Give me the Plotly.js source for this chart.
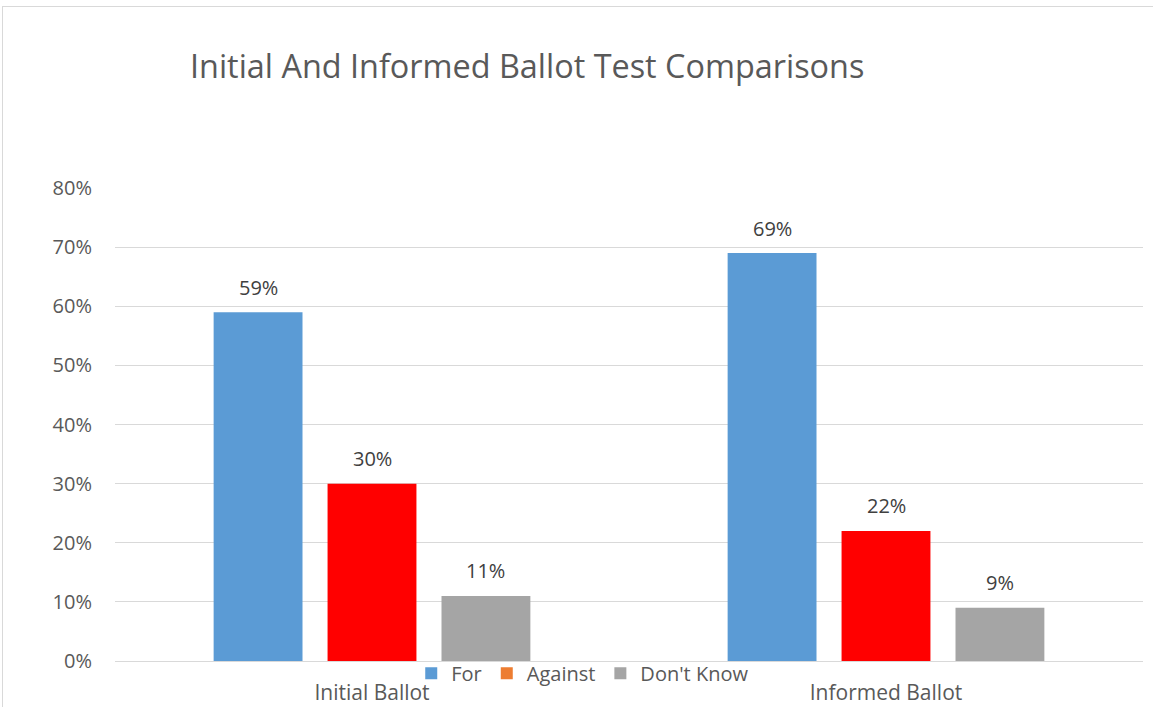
<!DOCTYPE html>
<html>
<head>
<meta charset="utf-8">
<script src="https://cdn.plot.ly/plotly-3.0.1.min.js"></script>
<style>
html,body{margin:0;padding:0;background:#fff;}
#wrap{position:relative;width:1153px;height:707px;overflow:hidden;}
#chart{position:absolute;left:0;top:0;width:1153px;height:707px;}
#frame{position:absolute;left:2px;top:6px;width:1160px;height:720px;border:1px solid #d9d9d9;pointer-events:none;box-sizing:border-box;}
</style>
</head>
<body>
<div id="wrap"><div id="chart"></div><div id="frame"></div></div>
<script>
const categories = ["Initial Ballot", "Informed Ballot"];
const forValues = [0.59, 0.69];
const againstValues = [0.30, 0.22];
const dontKnowValues = [0.11, 0.09];
const yTickValues = [0, 0.1, 0.2, 0.3, 0.4, 0.5, 0.6, 0.7, 0.8];
const yTickLabels = ["0%", "10%", "20%", "30%", "40%", "50%", "60%", "70%", "80%"];

const FONT = "Open Sans, sans-serif";
const pct = v => Math.round(v * 100) + "%";

const W = 1153, H = 707;
const margin = {l: 115, r: 10, t: 188, b: 46, pad: 0};
const BARGAP = 0.335, GROUPGAP = 0.22;

const traces = [
  {type: "bar", name: "For", x: categories, y: forValues, offsetgroup: "1",
   marker: {color: "#5B9BD5"}, hoverinfo: "none"},
  {type: "bar", name: "Against", x: categories, y: againstValues.map(() => null), offsetgroup: "2",
   marker: {color: "#ED7D31"}, hoverinfo: "none"},
  {type: "bar", name: "Don't Know", x: categories, y: dontKnowValues, offsetgroup: "3",
   marker: {color: "#A5A5A5"}, hoverinfo: "none"},
  {type: "bar", name: "Against", x: categories, y: againstValues, offsetgroup: "2", showlegend: false,
   marker: {color: "#FF0000"}, hoverinfo: "none"}
];

// data labels placed through the axes, shifted to each bar's slot in the group
const plotW = W - margin.l - margin.r;
const slot = plotW / categories.length * (1 - BARGAP) / 3;
const labelFont = {family: FONT, size: 20, color: "#404040"};
const annotations = [];
[forValues, againstValues, dontKnowValues].forEach((vals, si) => {
  vals.forEach((v, ci) => {
    annotations.push({x: categories[ci], y: v, xref: "x", yref: "y", text: pct(v),
      showarrow: false, xanchor: "center", yanchor: "middle",
      xshift: (si - 1) * slot, yshift: 25, font: labelFont});
  });
});

const layout = {
  width: W, height: H,
  margin: margin,
  paper_bgcolor: "#ffffff", plot_bgcolor: "#ffffff",
  font: {family: FONT, color: "#595959"},
  title: {text: "Initial And Informed Ballot Test Comparisons", x: 190 / W, xanchor: "left",
          y: 1 - 66.5 / H, yanchor: "middle", xref: "container", yref: "container",
          font: {family: FONT, size: 32.4, color: "#595959"}},
  barmode: "group", bargap: BARGAP, bargroupgap: GROUPGAP,
  showlegend: true,
  legend: {orientation: "h", x: 0.455, xanchor: "center", y: -0.026, yanchor: "middle",
           font: {family: FONT, size: 20, color: "#595959"}, traceorder: "normal",
           bgcolor: "rgba(0,0,0,0)", tracegroupgap: 0},
  annotations: annotations,
  xaxis: {type: "category", showgrid: false, showline: true, linecolor: "#d9d9d9", linewidth: 1,
          ticks: "", tickfont: {family: FONT, size: 21, color: "#595959"}, ticklabelstandoff: 13,
          fixedrange: true},
  yaxis: {range: [0, 0.8], tickvals: yTickValues, ticktext: yTickLabels, showgrid: true,
          gridcolor: "#d9d9d9", gridwidth: 1, zeroline: false, showline: false, ticks: "",
          tickfont: {family: FONT, size: 20, color: "#595959"}, ticklabelstandoff: 22,
          fixedrange: true}
};

Plotly.newPlot("chart", traces, layout, {displayModeBar: false, staticPlot: true});
</script>
</body>
</html>
